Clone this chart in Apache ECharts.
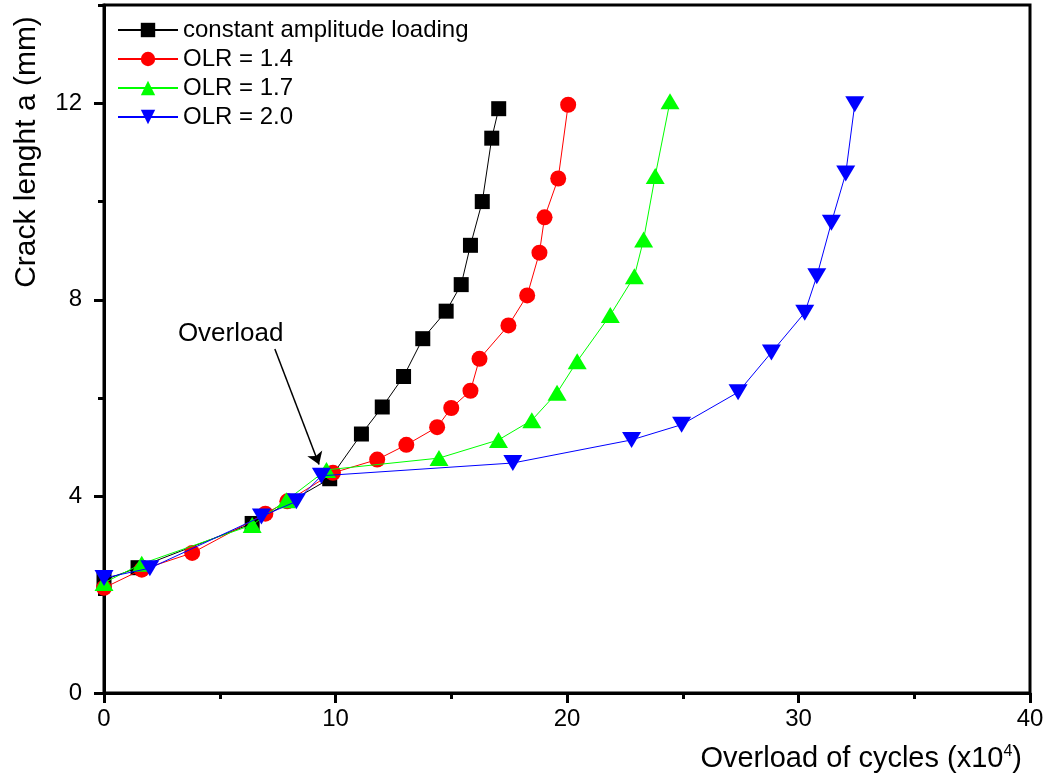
<!DOCTYPE html>
<html>
<head>
<meta charset="utf-8">
<script src="https://cdn.jsdelivr.net/npm/echarts@6/dist/echarts.min.js"></script>
<style>
html,body{margin:0;padding:0;background:#fff;}
#chart{width:1047px;height:776px;}
</style>
</head>
<body>
<div id="chart"></div>
<script>
// ---- data (x in 10^4 cycles, y in mm) ----
const seriesNames = ['constant amplitude loading', 'OLR = 1.4', 'OLR = 1.7', 'OLR = 2.0'];
const constantAmp = [[0,2.30],[1.47,2.55],[6.40,3.45],[9.75,4.36],[11.12,5.27],[12.02,5.82],[12.94,6.44],[13.77,7.21],[14.78,7.77],[15.43,8.31],[15.83,9.11],[16.34,10.00],[16.75,11.29],[17.05,11.89]];
const olr14 = [[0,2.14],[1.63,2.51],[3.81,2.85],[6.97,3.65],[7.92,3.90],[9.89,4.48],[11.80,4.75],[13.06,5.05],[14.39,5.41],[15.00,5.80],[15.83,6.15],[16.22,6.80],[17.47,7.48],[18.28,8.09],[18.81,8.96],[19.03,9.68],[19.62,10.47],[20.05,11.97]];
const olr17 = [[0,2.24],[1.63,2.63],[6.40,3.42],[7.88,3.92],[9.61,4.54],[14.47,4.78],[17.04,5.15],[18.48,5.55],[19.57,6.11],[20.44,6.75],[21.87,7.69],[22.91,8.48],[23.31,9.23],[23.81,10.52],[24.45,12.04]];
const olr20 = [[0,2.34],[1.98,2.54],[6.80,3.59],[8.31,3.90],[9.39,4.42],[17.66,4.68],[22.79,5.15],[24.95,5.46],[27.39,6.12],[28.83,6.93],[30.27,7.74],[30.79,8.48],[31.42,9.57],[32.04,10.57],[32.43,11.98]];
const xTicks = [0, 10, 20, 30, 40];
const yTicks = [0, 4, 8, 12];
// annotation (data coordinates)
const annotText = 'Overload';
const annotTextAt = [5.47, 7.31];
const arrowFrom = [7.38, 7.00];
const arrowTo = [9.29, 4.65];

const FONT = "'Liberation Sans', Arial, sans-serif";
const chart = echarts.init(document.getElementById('chart'), null, {renderer: 'canvas'});

const colors = ['#000000', '#ff0000', '#00ff00', '#0000ff'];
const symbols = ['rect', 'circle', 'triangle', 'path://M0,0L20,0L10,17Z'];
const sizes = [15, 16, [19, 16], [19, 16]];
const datas = [constantAmp, olr14, olr17, olr20];

const series = datas.map((d, i) => ({
  name: seriesNames[i],
  type: 'line',
  data: d,
  symbol: symbols[i],
  symbolSize: sizes[i],
  showAllSymbol: true,
  itemStyle: {color: colors[i]},
  lineStyle: {color: colors[i], width: 1},
  animation: false,
  z: 2 + i
}));

series[0].markLine = {
  silent: true,
  animation: false,
  symbol: ['none', 'arrow'],
  symbolSize: 12,
  lineStyle: {color: '#000', width: 1.5, type: 'solid'},
  label: {show: false},
  data: [[{coord: arrowFrom}, {coord: arrowTo}]]
};
series[0].markPoint = {
  silent: true,
  animation: false,
  symbol: 'circle',
  symbolSize: 1,
  itemStyle: {color: 'rgba(0,0,0,0)'},
  label: {show: true, position: 'inside', formatter: annotText, fontSize: 26, color: '#000', fontFamily: FONT},
  data: [{coord: annotTextAt}]
};

const majorAxisCommon = {
  axisLine: {show: true, lineStyle: {color: '#000', width: 3}},
  axisTick: {show: true, inside: false, length: 10, lineStyle: {color: '#000', width: 3}},
  splitLine: {show: false},
  minorTick: {show: false}
};
const minorAxisCommon = {
  axisLine: {show: false},
  axisLabel: {show: false},
  axisTick: {show: true, inside: false, length: 6, lineStyle: {color: '#000', width: 3}},
  splitLine: {show: false}
};

const option = {
  backgroundColor: '#fff',
  textStyle: {fontFamily: FONT},
  grid: {left: 104, right: 17, top: 5, bottom: 83, show: true, borderColor: '#000', borderWidth: 3, backgroundColor: 'transparent'},
  legend: {
    show: true,
    orient: 'vertical',
    left: 112,
    top: 13,
    itemWidth: 60,
    itemHeight: 18,
    itemGap: 5,
    textStyle: {fontSize: 24, color: '#000', fontFamily: FONT},
    data: seriesNames
  },
  xAxis: [
    Object.assign({
      type: 'value', min: 0, max: 40, interval: 10, position: 'bottom',
      axisLabel: {show: true, fontSize: 24, color: '#000', margin: 14, fontFamily: FONT,
        formatter: v => xTicks.indexOf(v) >= 0 ? String(v) : ''}
    }, majorAxisCommon),
    Object.assign({type: 'value', min: 0, max: 40, interval: 5, position: 'bottom'}, minorAxisCommon)
  ],
  yAxis: [
    Object.assign({
      type: 'value', min: 0, max: 14, interval: 4, position: 'left',
      axisLabel: {show: true, fontSize: 24, color: '#000', margin: 22, fontFamily: FONT, showMaxLabel: false,
        formatter: v => yTicks.indexOf(v) >= 0 ? String(v) : ''}
    }, majorAxisCommon),
    Object.assign({type: 'value', min: 0, max: 14, interval: 2, position: 'left'}, minorAxisCommon)
  ],
  graphic: [
    {
      type: 'text',
      x: 27, y: 152,
      rotation: Math.PI / 2,
      style: {text: 'Crack lenght a (mm)', fontSize: 30, fontFamily: FONT, fill: '#000', align: 'center', verticalAlign: 'middle'}
    },
    {
      type: 'text',
      x: 1022, y: 759,
      style: {
        text: 'Overload of cycles (x10{sup|4})',
        fontSize: 29, fontFamily: FONT, fill: '#000', align: 'right', verticalAlign: 'middle',
        rich: {sup: {fontSize: 16, fontFamily: FONT, fill: '#000', verticalAlign: 'top', padding: [0, 0, 14, 0]}}
      }
    }
  ],
  series: series
};
chart.setOption(option);
</script>
</body>
</html>
